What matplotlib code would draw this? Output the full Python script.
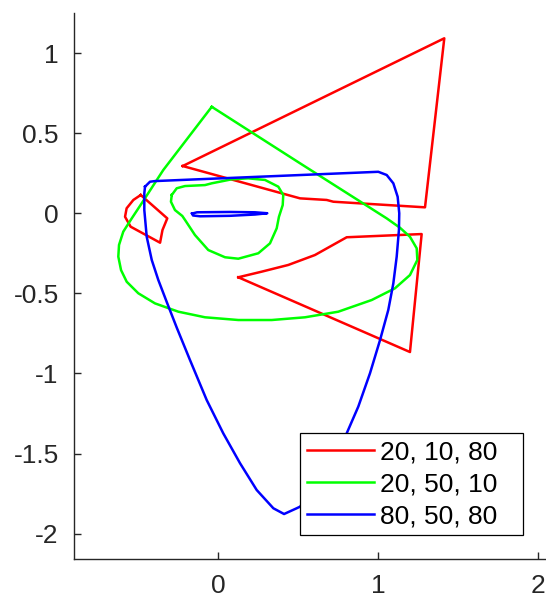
import numpy as np
import matplotlib.pyplot as plt

plt.rcParams['font.family'] = ['Liberation Sans', 'DejaVu Sans']
plt.rcParams['axes.unicode_minus'] = False

## Curve data ##

labels = ['20, 10, 80', '20, 50, 10', '80, 50, 80']
colors = ['#ff0000', '#00ff00', '#0000ff']

# 20, 10, 80 -> three separate closed loops
red_small_x = [-0.485, -0.319, -0.349, -0.364, -0.548, -0.583, -0.573, -0.531]
red_small_y = [0.115, -0.031, -0.104, -0.183, -0.083, -0.021, 0.032, 0.084]

red_upper_x = [-0.2225, 1.4125, 1.292, 0.719, 0.6775, 0.511]
red_upper_y = [0.296, 1.094, 0.038, 0.073, 0.084, 0.094]

red_lower_x = [0.125, 0.271, 0.4375, 0.604, 0.8025, 1.271, 1.198]
red_lower_y = [-0.399, -0.364, -0.322, -0.260, -0.149, -0.129, -0.866]

# 20, 50, 10 -> outer kite/ellipse and inner blob
green_outer_x = [-0.041, 0.511, 1.0525, 1.136, 1.198, 1.24, 1.244, 1.198, 1.104, 0.959,
                 0.75, 0.542, 0.334, 0.125, -0.083, -0.25, -0.396, -0.5, -0.5725,
                 -0.608, -0.625, -0.6206, -0.594, -0.541, -0.479, -0.344]
green_outer_y = [0.666, 0.313, -0.031, -0.09, -0.146, -0.218, -0.291, -0.385, -0.468, -0.541,
                 -0.614, -0.649, -0.666, -0.666, -0.649, -0.614, -0.562, -0.499, -0.427,
                 -0.354, -0.270, -0.197, -0.114, -0.031, 0.063, 0.271]

green_inner_x = [-0.291, -0.26, -0.208, -0.083, -0.041, 0.084, 0.1875, 0.292, 0.375,
                 0.406, 0.4025, 0.379, 0.365, 0.323, 0.25, 0.125, 0.042, -0.0625,
                 -0.146, -0.208, -0.225, -0.271, -0.296]
green_inner_y = [0.115, 0.157, 0.171, 0.177, 0.188, 0.213, 0.219, 0.209, 0.167,
                 0.115, 0.052, -0.021, -0.093, -0.187, -0.249, -0.283, -0.274, -0.229,
                 -0.135, -0.041, -0.016, 0.021, 0.073]

# 80, 50, 80 -> big loop and the flat loop near the origin
blue_outer_x = [-0.458, -0.427, -0.396, 1.0, 1.0525, 1.094, 1.121, 1.131, 1.129, 1.115,
                1.094, 1.0625, 1.011, 0.948, 0.875, 0.8025, 0.648, 0.573, 0.511, 0.49,
                0.411, 0.344, 0.24, 0.136, 0.031, -0.0725, -0.177, -0.26, -0.3225,
                -0.375, -0.416, -0.4475, -0.4625, -0.4625]
blue_outer_y = [0.167, 0.198, 0.202, 0.260, 0.240, 0.188, 0.104, 0.001, -0.104, -0.270,
                -0.437, -0.603, -0.791, -0.999, -1.207, -1.374, -1.653, -1.759, -1.832, -1.842,
                -1.878, -1.842, -1.728, -1.561, -1.374, -1.166, -0.916, -0.713, -0.553,
                -0.416, -0.291, -0.146, 0.021, 0.126]

blue_inner_x = [-0.164, -0.133, 0.073, 0.229, 0.306, 0.229, 0.073, -0.114, -0.158]
blue_inner_y = [-0.001, 0.007, 0.009, 0.007, 0.001, -0.007, -0.015, -0.018, -0.013]


def join_loops(*loops):
    # close every loop and separate them with NaN so one line holds them all
    xs, ys = [], []
    for lx, ly in loops:
        xs += list(lx) + [lx[0], np.nan]
        ys += list(ly) + [ly[0], np.nan]
    return np.array(xs), np.array(ys)


series = [
    join_loops((red_small_x, red_small_y), (red_upper_x, red_upper_y), (red_lower_x, red_lower_y)),
    join_loops((green_outer_x, green_outer_y), (green_inner_x, green_inner_y)),
    join_loops((blue_outer_x, blue_outer_y), (blue_inner_x, blue_inner_y)),
]

## Plot ##

fig = plt.figure(figsize=(5.46, 5.97), dpi=100)
ax = fig.add_axes([74 / 546, 38 / 597, 471 / 546, 546 / 597])

for (x, y), c, lab in zip(series, colors, labels):
    ax.plot(x, y, color=c, linewidth=1.8, label=lab, solid_joinstyle='round')

ax.set_xlim(-0.902, 2.042)
ax.set_ylim(-2.159, 1.252)
ax.set_xticks([0, 1, 2])
ax.set_xticklabels(['0', '1', '2'])
ax.set_yticks([-2, -1.5, -1, -0.5, 0, 0.5, 1])
ax.set_yticklabels(['-2', '-1.5', '-1', '-0.5', '0', '0.5', '1'])

for side in ['top', 'right']:
    ax.spines[side].set_visible(False)
for side in ['left', 'bottom']:
    ax.spines[side].set_color('#262626')
    ax.spines[side].set_linewidth(1.0)
ax.tick_params(direction='in', length=5, width=1.0, color='#262626',
               labelcolor='#262626', labelsize=19, pad=11)

leg = ax.legend(loc='upper left', bbox_to_anchor=(0.48, 0.04, 0.474, 0.19),
                mode='expand', borderaxespad=0, fontsize=19, fancybox=False,
                framealpha=1, edgecolor='#000000', handlelength=2.53,
                handletextpad=0.22, borderpad=0.26, labelspacing=0.3)
leg.get_frame().set_linewidth(0.9)

fig.savefig('out.png', dpi=100)
